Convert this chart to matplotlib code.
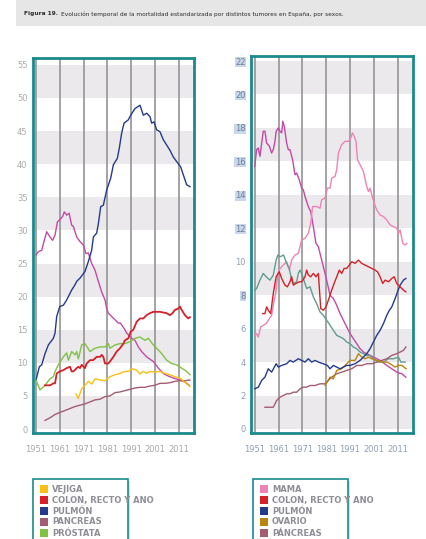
import matplotlib
matplotlib.use("Agg")
import matplotlib.pyplot as plt
from matplotlib.patches import Rectangle

# series: (year, rate)
vejiga_h = [(1967.8, 5.3), (1968.8, 4.6), (1970.2, 6.1), (1971.6, 6.6), (1973, 7.2), (1974.4, 6.8),
            (1975.8, 7.6), (1977.9, 7.4), (1980, 7.3), (1982.1, 7.9), (1984.2, 8.2), (1986.3, 8.4),
            (1988.4, 8.7), (1989.8, 8.7), (1991.2, 9.1), (1993.3, 8.9), (1994.7, 8.3), (1996.1, 8.7),
            (1997.5, 8.4), (1998.9, 8.7), (2000.9, 8.6), (2003.1, 8.7), (2005.2, 8.4), (2007.3, 8.2),
            (2009.4, 7.9), (2011.5, 7.7), (2013.2, 7.2), (2015, 6.6), (2015.7, 6.4)]
colon_h = [(1954.8, 6.6), (1956.9, 6.6), (1958.3, 6.9), (1959, 6.9), (1959.7, 8.4), (1961, 8.7),
           (1962.5, 8.9), (1963.9, 9.2), (1965.3, 9.4), (1966, 8.7), (1966.7, 8.7), (1968.1, 9.2),
           (1968.8, 9.4), (1969.5, 9.2), (1970.2, 9.7), (1971.6, 9.2), (1972.3, 9.9), (1973.7, 10.4),
           (1975, 10.4), (1976.5, 10.9), (1977.9, 10.9), (1978.6, 11.2), (1979.3, 10.9), (1980, 9.9),
           (1981.4, 9.9), (1982.1, 10.2), (1983.5, 10.9), (1984.9, 11.7), (1986.3, 12.2), (1987.7, 12.9),
           (1988.4, 13.4), (1989.8, 13.7), (1990.8, 14.7), (1991.9, 15), (1993.3, 16.2), (1994.7, 16.7),
           (1996.1, 16.7), (1997.5, 17.2), (1998.9, 17.5), (2000.3, 17.7), (2003.1, 17.7), (2004.5, 17.6),
           (2005.9, 17.5), (2007.3, 17.2), (2008.4, 17.5), (2009.4, 18), (2010.8, 18.2), (2011.5, 18.5),
           (2012.2, 18), (2013.6, 17.2), (2015, 16.7), (2015.7, 16.9)]
pulmon_h = [(1951, 7.4), (1952.4, 9.4), (1953.4, 9.7), (1954.8, 11.4), (1956.2, 12.7), (1958.3, 13.7),
            (1959, 14.5), (1959.7, 17), (1961, 18.5), (1962.5, 18.7), (1963.9, 19.5), (1966, 21),
            (1967.4, 21.8), (1968.1, 22.3), (1969.5, 22.8), (1971.6, 23.8), (1973, 25.3), (1974.4, 27),
            (1975.1, 29), (1976.5, 29.6), (1977.2, 31), (1978.2, 33.6), (1979.3, 33.8), (1980.7, 36.1),
            (1982.4, 37.9), (1983.5, 39.9), (1985.2, 40.9), (1986, 42.4), (1987, 44.7), (1988, 46.2),
            (1989.8, 46.7), (1990.8, 47.4), (1992.6, 48.4), (1994.7, 48.9), (1996.1, 47.4), (1997.5, 47.7),
            (1998.9, 47.2), (1999.6, 46.2), (2000.6, 46.4), (2001.7, 45.2), (2003.1, 44.9), (2004.5, 43.7),
            (2005.9, 42.9), (2007.3, 42.1), (2008.7, 41.1), (2010.1, 40.4), (2011.8, 39.6), (2012.9, 38.4),
            (2014.3, 36.9), (2015.7, 36.6)]
pancreas_h = [(1954.8, 1.3), (1956.9, 1.7), (1959, 2.2), (1961, 2.5), (1963.2, 2.8), (1965.3, 3.1),
              (1967.4, 3.4), (1969.5, 3.6), (1971.6, 3.8), (1973.7, 4.1), (1975.8, 4.4), (1977.9, 4.5),
              (1980, 4.9), (1982.1, 5), (1984.2, 5.5), (1986.3, 5.6), (1988.4, 5.8), (1990.5, 6),
              (1992.6, 6.2), (1994.7, 6.3), (1996.8, 6.3), (1998.9, 6.5), (2000.9, 6.6), (2003.1, 6.9),
              (2005.2, 6.9), (2007.3, 7), (2009.4, 7.2), (2011.5, 7.3), (2013.6, 7.3), (2015.7, 7.4)]
prostata_h = [(1951, 7.4), (1952.7, 5.9), (1954.8, 6.6), (1956.9, 7.6), (1958.3, 7.9), (1959, 8.7),
              (1960.4, 9.7), (1962.5, 10.9), (1963.9, 11.5), (1964.6, 10.4), (1966, 11.7), (1967.4, 11.2),
              (1968.1, 11.7), (1968.8, 10.6), (1970.2, 12.7), (1971.6, 12.9), (1973.7, 11.7), (1975.8, 12.2),
              (1977.9, 12.4), (1980, 12.4), (1981.4, 12.9), (1982.1, 12.2), (1984.2, 12.7), (1986.3, 12.9),
              (1988.4, 12.9), (1990.5, 13.2), (1992.6, 13.7), (1994.7, 13.9), (1996.8, 13.4), (1998.2, 13.7),
              (2000.3, 12.7), (2001.7, 12.2), (2003.8, 11.4), (2005.9, 10.4), (2008, 9.9), (2010.1, 9.7),
              (2012.2, 9.2), (2014.3, 8.7), (2015.7, 8.2)]
estomago_h = [(1951, 26.3), (1952, 26.8), (1953.4, 27), (1954.1, 28), (1955.5, 29.8), (1956.9, 29),
              (1958, 28.5), (1959, 29.3), (1960, 31.3), (1961, 31.6), (1962.2, 32.1), (1962.9, 32.8),
              (1963.9, 32.3), (1964.9, 32.6), (1966, 30.8), (1966.7, 30.6), (1968.1, 29), (1969.5, 28.3),
              (1970.9, 27.8), (1972, 26.5), (1973, 26.6), (1974.4, 25), (1975.8, 24), (1977.2, 22.3),
              (1978.6, 20.7), (1980, 19.5), (1980.7, 18.2), (1981.4, 17.5), (1982.8, 17), (1984.2, 16.5),
              (1985.6, 16), (1986.5, 16), (1988, 15.2), (1989.1, 14.5), (1991.2, 13.7), (1992.6, 13.4),
              (1994, 12.4), (1995.4, 11.7), (1997.5, 10.9), (2000.3, 10.2), (2002.4, 9.2), (2004.5, 8.4),
              (2006.6, 8), (2008.7, 7.7), (2011.5, 7.4), (2013.6, 7.1), (2015.4, 6.6)]

mama_m = [(1951, 5.6), (1951.8, 5.7), (1952.5, 5.5), (1953.5, 6.1), (1954.6, 6.2), (1955.8, 6.3),
          (1957.2, 6.6), (1958.1, 6.8), (1958.8, 7.4), (1960, 8.3), (1960.7, 9.3), (1961.7, 9.6),
          (1962.3, 9.7), (1963.7, 9.9), (1964.4, 10), (1965.5, 9.5), (1966.5, 10.1), (1967.9, 10.4),
          (1969.3, 10.5), (1970, 10.9), (1970.7, 11.3), (1972.1, 11.4), (1973.5, 11.7), (1974.5, 12.3),
          (1975.3, 13.3), (1977, 13.3), (1978.4, 13.2), (1979.1, 13.7), (1980.5, 13.8), (1981.5, 14.4),
          (1982.6, 14.4), (1983.3, 15), (1984.7, 15.1), (1985.4, 15.5), (1986.1, 16.5), (1987.5, 17),
          (1988.9, 17.2), (1990.3, 17.2), (1991, 17.3), (1992, 17.7), (1992.7, 17.5), (1993.5, 17.2),
          (1994.1, 16.1), (1995.2, 15.8), (1996.6, 15.4), (1998, 14.5), (1998.7, 14.2), (1999.4, 14.4),
          (2000.1, 14), (2001.1, 13.5), (2002.2, 13.1), (2003.6, 12.8), (2005, 12.7), (2006.4, 12.5),
          (2007.8, 12.2), (2009.2, 12.1), (2010.6, 12), (2011.3, 11.7), (2012, 11.9), (2013.1, 11.1),
          (2014.1, 11), (2014.8, 11.1)]
colon_m = [(1954.4, 6.9), (1955.3, 6.9), (1956, 7.3), (1956.7, 7.1), (1957.7, 6.9), (1958.8, 8.1),
           (1960, 9.1), (1961.3, 9.4), (1962.3, 9), (1963.7, 8.6), (1964.7, 8.5), (1965.8, 8.8),
           (1966.5, 9.1), (1967.2, 8.6), (1968.3, 8.7), (1969.7, 8.8), (1970.7, 8.8), (1972.1, 9.1),
           (1972.8, 9.5), (1973.5, 9.2), (1974.5, 9.1), (1975.6, 9.3), (1976.7, 9.1), (1977.7, 9.3),
           (1978.7, 7.2), (1979.8, 7.1), (1980.9, 7.3), (1981.9, 7.7), (1983.3, 8.3), (1984.3, 8.7),
           (1985.4, 9.1), (1986.5, 9.5), (1987.5, 9.3), (1988.5, 9.6), (1989.6, 9.6), (1990.7, 9.8),
           (1991.7, 10), (1993.1, 9.9), (1994.5, 10.1), (1995.9, 9.9), (1997.3, 9.8), (1998.7, 9.7),
           (2000.1, 9.6), (2001.5, 9.5), (2002.5, 9.4), (2003.6, 9.1), (2004.7, 8.7), (2005.7, 8.9),
           (2007.1, 8.8), (2008.5, 9), (2009.5, 9.1), (2010.6, 8.7), (2012, 8.5), (2013.4, 8.3),
           (2014.4, 8.2)]
pulmon_m = [(1951, 2.4), (1952.5, 2.5), (1953.9, 2.9), (1955.3, 3.1), (1956.7, 3.6), (1958.1, 3.4),
            (1960, 3.9), (1960.9, 3.7), (1962.3, 3.8), (1964.4, 3.9), (1965.8, 4.1), (1967.2, 4),
            (1969.3, 4.2), (1970.7, 4.1), (1972.1, 4), (1973.5, 4.2), (1974.9, 4), (1976.3, 4.1),
            (1977.7, 4), (1979.8, 3.9), (1981.5, 3.8), (1982.6, 3.6), (1984, 3.8), (1985.4, 3.7),
            (1986.8, 3.6), (1988.2, 3.7), (1989.6, 3.8), (1991, 3.8), (1993.1, 3.9), (1995.2, 4.1),
            (1996.6, 4.3), (1998, 4.5), (1999.4, 4.8), (2000.8, 5.2), (2002.2, 5.6), (2003.6, 5.9),
            (2005, 6.3), (2006.4, 6.8), (2007.5, 7.1), (2008.5, 7.3), (2009.9, 7.8), (2010.9, 8.2),
            (2012, 8.6), (2013.4, 8.9), (2014.4, 9)]
ovario_m = [(1980.5, 2.6), (1982.6, 3.1), (1984, 3), (1985.4, 3.5), (1987.5, 3.6), (1989.6, 3.9),
            (1991, 4.1), (1993.1, 4.1), (1994.5, 4.5), (1995.9, 4.3), (1997.3, 4.2), (1998.7, 4.3),
            (2000.1, 4.2), (2002.2, 4.1), (2004.3, 4), (2006.4, 4), (2007.8, 3.9), (2009.9, 3.7),
            (2011.3, 3.8), (2012.7, 3.8), (2014.5, 3.6)]
pancreas_m = [(1955.3, 1.3), (1957.4, 1.3), (1958.8, 1.3), (1960.2, 1.7), (1961.6, 1.9), (1963, 2),
              (1964.4, 2.1), (1965.8, 2.1), (1967.2, 2.2), (1968.6, 2.2), (1970, 2.4), (1971.4, 2.5),
              (1972.8, 2.5), (1974.2, 2.6), (1976.3, 2.6), (1978.4, 2.7), (1980.5, 2.7), (1981.9, 2.9),
              (1983.3, 3.1), (1985.4, 3.3), (1987.5, 3.4), (1989.6, 3.5), (1991.7, 3.6), (1993.8, 3.8),
              (1995.9, 3.8), (1998, 3.9), (2000.1, 3.9), (2002.2, 4), (2004.3, 4.1), (2006.4, 4.2),
              (2008.5, 4.4), (2010.6, 4.5), (2012, 4.6), (2013.4, 4.7), (2014.4, 4.9)]
estomago_m = [(1951, 15.7), (1951.8, 16.7), (1952.5, 16.8), (1953.2, 16.3), (1954.6, 17.8), (1955.3, 17.8),
              (1956, 17.1), (1957.2, 16.9), (1958.1, 16.5), (1958.8, 16.7), (1959.5, 17.2), (1960, 17.8),
              (1960.9, 18), (1961.6, 17.8), (1962.3, 17.7), (1962.8, 18.4), (1963.4, 18.1), (1964.4, 17.1),
              (1965.1, 16.7), (1965.8, 16.7), (1966.9, 16.1), (1967.9, 15.2), (1968.6, 15.3), (1969.7, 14.9),
              (1970.7, 14.4), (1971.4, 14.3), (1972.1, 13.9), (1973.5, 13.3), (1974.5, 13), (1975.6, 12.1),
              (1976.7, 11.1), (1977.7, 10.9), (1978.4, 10.5), (1979.8, 9.7), (1980.5, 9.3), (1981.5, 8.7),
              (1982.6, 8), (1984, 7.8), (1985.4, 7.4), (1986.8, 6.9), (1988.2, 6.5), (1989.6, 6.1),
              (1991, 5.7), (1992.4, 5.4), (1993.8, 5.1), (1995.2, 4.8), (1996.6, 4.6), (1998, 4.5),
              (2000.8, 4.3), (2003.6, 4.1), (2006.4, 3.8), (2008.5, 3.6), (2010.6, 3.4), (2012.7, 3.3),
              (2014.4, 3.1)]
utero_m = [(1951, 8.3), (1951.8, 8.4), (1953.2, 8.9), (1954.6, 9.3), (1955.8, 9.1), (1957.4, 8.9),
           (1958.8, 9.2), (1960, 10.1), (1960.7, 10.4), (1961.7, 10.3), (1963.1, 10.4), (1964.4, 9.9),
           (1965.5, 9.6), (1966.5, 8.9), (1967.2, 8.7), (1968.6, 8.8), (1969.3, 9.3), (1970, 9.5),
           (1970.7, 9.3), (1971.4, 9), (1972.8, 8.4), (1974.2, 8.5), (1975.6, 7.9), (1977, 7.5),
           (1978.4, 7), (1979.8, 6.8), (1981.2, 6.5), (1982.6, 6.2), (1984, 5.9), (1985.4, 5.6),
           (1986.8, 5.5), (1988.2, 5.4), (1989.6, 5.2), (1991, 5.1), (1992.4, 4.9), (1993.8, 4.8),
           (1995.2, 4.6), (1996.6, 4.5), (1998, 4.4), (1999.4, 4.4), (2000.8, 4.2), (2002.9, 4),
           (2005, 4), (2007.1, 4.2), (2009.2, 4.2), (2011.3, 4.3), (2012.3, 4), (2014.1, 4)]

year_ticks = [1951, 1961, 1971, 1981, 1991, 2001, 2011]
ticks_h = list(range(0, 56, 5))
ticks_m = list(range(0, 23, 2))
labels_h = ["VEJIGA", "COLON, RECTO Y ANO", "PULMÓN", "PANCREAS", "PRÓSTATA"]
labels_m = ["MAMA", "COLON, RECTO Y ANO", "PULMÓN", "OVARIO", "PÁNCREAS"]

YELLOW = "#fbbf14"
RED = "#d5202a"
NAVY = "#243a8c"
MAUVE = "#a45c72"
GREEN = "#80c242"
PINK = "#ee84b6"
GOLD = "#b8860b"
MAGENTA = "#c24aa8"
TEAL_LINE = "#5f9d8f"
TEAL = "#1a8a8e"
BAND = "#ebe9eb"

FONT = ["Liberation Sans Narrow", "DejaVu Sans"]

fig = plt.figure(figsize=(4.27, 5.39), dpi=100)
W, H = 427.0, 539.0


def px(x0, y0, x1, y1):
    return [x0 / W, 1 - y1 / H, (x1 - x0) / W, (y1 - y0) / H]


def setup(ax, ticks, step, ylim, xlim, lab_color):
    ax.set_xlim(*xlim)
    ax.set_ylim(*ylim)
    for lo in ticks[::2]:
        if lo + step <= ticks[-1]:
            ax.axhspan(lo, lo + step, color=BAND, lw=0, zorder=0)
    for yr in year_ticks:
        ax.axvline(yr, color="#9c9c9c", lw=1.3, zorder=1)
    for s in ax.spines.values():
        s.set_color(TEAL)
        s.set_linewidth(2)
    ax.set_xticks(year_ticks)
    ax.set_yticks(ticks)
    ax.tick_params(length=0, labelsize=6, labelcolor=lab_color, pad=4)
    ax.tick_params(axis="x", pad=9)
    for t in ax.get_xticklabels() + ax.get_yticklabels():
        t.set_fontfamily(FONT)


ax1 = fig.add_axes(px(33, 58, 194, 433))
setup(ax1, ticks_h, 5, (-0.6, 56.04), (1949.74, 2017.4), "#a9a9a9")
for data, col in [(estomago_h, MAGENTA), (pulmon_h, NAVY), (pancreas_h, MAUVE),
                  (prostata_h, GREEN), (vejiga_h, YELLOW), (colon_h, RED)]:
    xs, ys = zip(*data)
    ax1.plot(xs, ys, color=col, lw=1.0 if col != RED else 1.3, zorder=3)

ax2 = fig.add_axes(px(251, 56, 413, 433))
setup(ax2, ticks_m, 2, (-0.24, 22.3), (1949.45, 2017.4), "#8fa0b5")
for data, col in [(estomago_m, MAGENTA), (mama_m, PINK), (utero_m, TEAL_LINE), (pancreas_m, MAUVE),
                  (ovario_m, GOLD), (pulmon_m, NAVY), (colon_m, RED)]:
    xs, ys = zip(*data)
    ax2.plot(xs, ys, color=col, lw=1.0, zorder=3)
# highlighted labels as in the source PDF
for t in ax2.get_yticklabels():
    if t.get_text() in ("22", "20", "18", "16", "14", "12", "8"):
        t.set_bbox(dict(facecolor="#c8d8ea", edgecolor="none", pad=0.3))
        t.set_color("#6d7f99")

# title band
fig.patches.append(Rectangle((16 / W, 1 - 26 / H), 1 - 16 / W, 26 / H, transform=fig.transFigure,
                             facecolor="#e6e6e6", edgecolor="none", zorder=0))
t1 = fig.text(24 / W, 1 - 14 / H, "Figura 19.", fontsize=4.2, fontweight="bold", color="#2b2b2b",
              va="center", family=FONT)
fig.canvas.draw()
bb = t1.get_window_extent()
fig.text(bb.x1 / W + 3 / W, 1 - 14 / H,
         "Evolución temporal de la mortalidad estandarizada por distintos tumores en España, por sexos.",
         fontsize=4.2, color="#2b2b2b", va="center", family=FONT)


def legend_box(x0, labels, colors):
    fig.patches.append(Rectangle(((x0 + 2) / W, 0), 95 / W, 1 - 481 / H, transform=fig.transFigure,
                                 facecolor="#d5e3e3", edgecolor="none", zorder=1))
    fig.patches.append(Rectangle((x0 / W, -0.02), 95 / W, 0.02 + 1 - 479 / H, transform=fig.transFigure,
                                 facecolor="white", edgecolor=TEAL, lw=1.2, zorder=2))
    for i, (lab, col) in enumerate(zip(labels, colors)):
        yc = 489 + 11 * i
        fig.patches.append(Rectangle(((x0 + 7) / W, 1 - (yc + 4) / H), 8 / W, 8 / H,
                                     transform=fig.transFigure, facecolor=col, edgecolor="none", zorder=3))
        fig.text((x0 + 19) / W, 1 - yc / H, lab, fontsize=6, fontweight="bold", color="#8e8e96",
                 va="center", family=FONT, zorder=4)


legend_box(33, labels_h, [YELLOW, RED, NAVY, MAUVE, GREEN])
legend_box(253, labels_m, [PINK, RED, NAVY, GOLD, MAUVE])

fig.savefig("out.png", dpi=100)
